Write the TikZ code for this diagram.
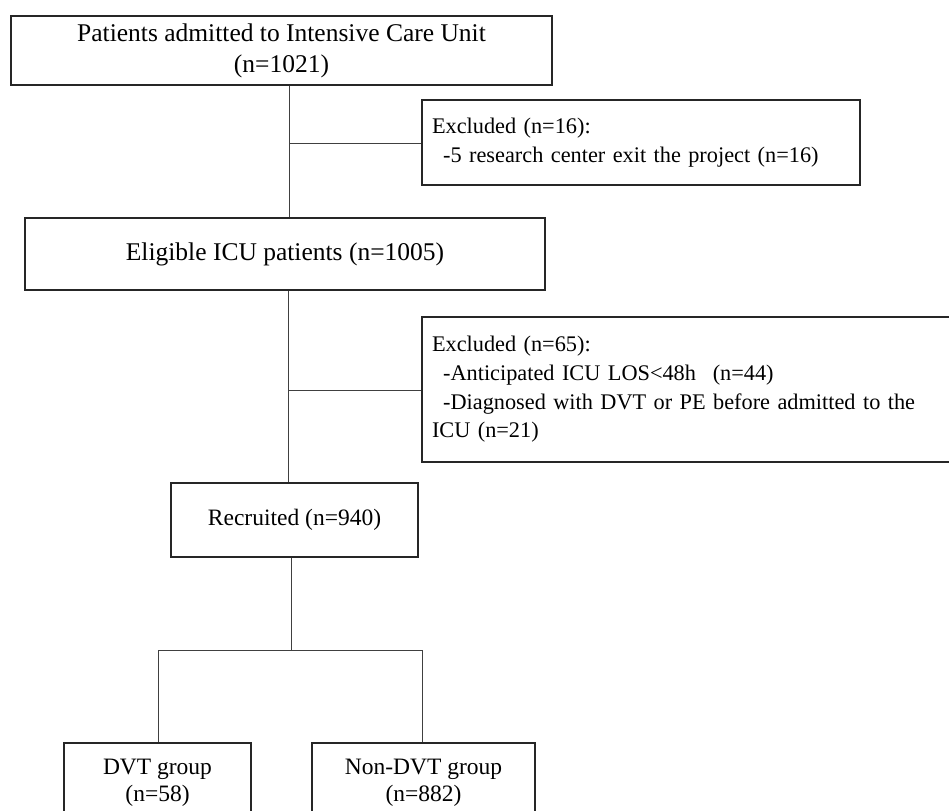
\documentclass[tikz,border=0pt]{standalone}
\usepackage{fontspec}
\setmainfont{Liberation Serif}
\begin{document}
\begin{tikzpicture}[x=1pt,y=-1pt,
box/.style={draw=black!85,line width=1.2pt,rectangle,inner sep=0pt},
big/.style={box,font=\fontsize{25.5}{31}\selectfont,align=center},
mid/.style={box,font=\fontsize{23.5}{27}\selectfont,align=center},
side/.style={box,font=\fontsize{22.3}{28.7}\selectfont,align=left,inner xsep=10pt},
link/.style={draw=black!75,line width=1pt}]
\useasboundingbox (0,0) rectangle (949,810);
\clip (0,0) rectangle (949,810);
\node[big,minimum width=541pt,minimum height=69pt] (a1) at (281.5,50.5) {Patients admitted to Intensive Care Unit\\(n=1021)};
\node[side,text width=418pt,minimum height=85pt] (a2) at (641,142.5) {Excluded (n=16):\\\hspace*{0.5em}-5 research center exit the project (n=16)};
\node[big,minimum width=520pt,minimum height=72pt] (a3) at (285,254) {Eligible ICU patients (n=1005)};
\node[side,text width=520pt,minimum height=145pt] (a4) at (692,389.5) {Excluded (n=65):\\\hspace*{0.5em}-Anticipated ICU LOS<48h\hspace{0.75em}(n=44)\\\hspace*{0.5em}-Diagnosed with DVT or PE before admitted to the\\ICU (n=21)};
\node[mid,minimum width=247pt,minimum height=74pt] (a5) at (294.5,520) {Recruited (n=940)};
\node[mid,minimum width=187pt,minimum height=80pt] (a6) at (157.5,783) {DVT group\\(n=58)};
\node[mid,minimum width=223pt,minimum height=80pt] (a7) at (423.5,783) {Non-DVT group\\(n=882)};

\coordinate (c1) at (289,144);
\coordinate (c2) at (288,390);
\coordinate (c3) at (291,650);
\coordinate (c4) at (158,650);
\coordinate (c5) at (422,650);

\draw [link] (a1.south -| c1) -- (a3.north -| c1);
\draw [link] (c1) -- (a2.west |- c1);
\draw [link] (a3.south -| c2) -- (a5.north -| c2);
\draw [link] (c2) -- (a4.west |- c2);
\draw [link] (a5.south -| c3) -- (c3);
\draw [link] (c4) -- (c5);
\draw [link] (c4) -- (a6.north -| c4);
\draw [link] (c5) -- (a7.north -| c5);
\end{tikzpicture}
\end{document}
